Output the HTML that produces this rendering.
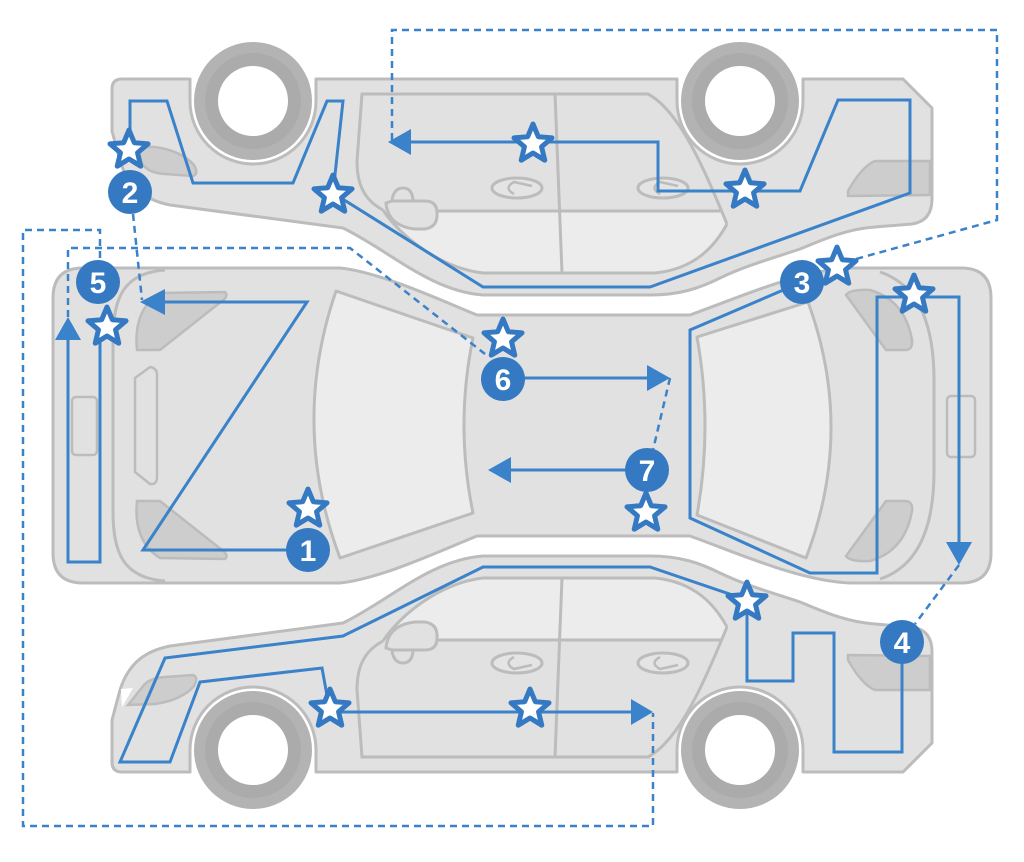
<!DOCTYPE html>
<html><head><meta charset="utf-8"><style>
html,body{margin:0;padding:0;background:#fff;}
svg{display:block;}
.num{font-family:"Liberation Sans",sans-serif;font-weight:bold;font-size:30px;fill:#fff;text-anchor:middle;}
</style></head><body>
<svg width="1024" height="862" viewBox="0 0 1024 862" xmlns="http://www.w3.org/2000/svg">
<defs>
<g id="side">
  <path d="M122,772 L190,772 L190,750 A63,63 0 0 1 316,750 L316,772 L677,772 L677,750 A63,63 0 0 1 803,750 L803,772 L903,772 L932,743 L932,652 Q932,630 912,627 L875,624 C845,622 820,610 800,602 C770,592 745,585 720,573 C700,563 680,556 650,556 L483,556 C430,560 390,600 343,623 L170,646 C140,652 127,668 120,690 L112,720 L112,762 Q112,772 122,772 Z" fill="#e1e1e1" stroke="#bcbcbc" stroke-width="3" stroke-linejoin="round"/>
  <path d="M383,641 C400,615 440,583 483,578 L655,578 C695,582 715,605 727,627 L721,641 Z" fill="#ececec"/>
  <path d="M383,641 C400,615 440,583 483,578 L655,578 C695,582 715,605 727,627" fill="none" stroke="#bcbcbc" stroke-width="3"/>
  <path d="M383,641 C362,652 357,670 357,690 L362,757 L648,757 C680,740 705,680 727,627" fill="none" stroke="#bcbcbc" stroke-width="3"/>
  <path d="M562,578 L555,757" stroke="#bcbcbc" stroke-width="3"/>
  <path d="M437,640 L722,640" stroke="#bcbcbc" stroke-width="3"/>
  <path d="M386,648 Q388,625 415,622 L425,622 Q438,624 437,638 Q437,650 425,650 L392,650 Z" fill="#e1e1e1" stroke="#bcbcbc" stroke-width="3"/>
  <path d="M392,651 Q394,663 403,663 Q412,663 413,651" fill="none" stroke="#bcbcbc" stroke-width="3"/>
  <ellipse cx="517" cy="663" rx="25" ry="10" fill="#e4e4e4" stroke="#bcbcbc" stroke-width="3"/>
  <path d="M514,657 Q503,663 514,669 L532,665" fill="none" stroke="#bcbcbc" stroke-width="2.5"/>
  <ellipse cx="663" cy="663" rx="25" ry="10" fill="#e4e4e4" stroke="#bcbcbc" stroke-width="3"/>
  <path d="M660,657 Q649,663 660,669 L678,665" fill="none" stroke="#bcbcbc" stroke-width="2.5"/>
  <path d="M128,705 L144,685 Q150,678 165,677 L193,675 Q199,677 194,686 Q182,700 155,704 Z" fill="#cdcdcd" stroke="#bcbcbc" stroke-width="2.5"/>
  <path d="M121,689 L133,688 L122,707 Z" fill="#fff"/>
  <path d="M848,655 L930,656 L930,690 L875,690 Q862,685 848,660 Z" fill="#cdcdcd" stroke="#bcbcbc" stroke-width="2.5"/>
  <circle cx="253" cy="750" r="59" fill="#b3b3b3"/>
  <circle cx="253" cy="750" r="48" fill="#ababab"/>
  <circle cx="253" cy="750" r="35" fill="#fff"/>
  <circle cx="740" cy="750" r="59" fill="#b3b3b3"/>
  <circle cx="740" cy="750" r="48" fill="#ababab"/>
  <circle cx="740" cy="750" r="35" fill="#fff"/>
</g>
<path id="st" d="M0,-20 L5.29,-7.28 L19.02,-6.18 L8.56,2.78 L11.76,16.18 L0,9 L-11.76,16.18 L-8.56,2.78 L-19.02,-6.18 L-5.29,-7.28 Z" fill="#fff" stroke="#3479c1" stroke-width="5" stroke-linejoin="round"/>
</defs>

<!-- top car (mirrored) -->
<g transform="translate(0,851) scale(1,-1)"><use href="#side"/></g>
<!-- bottom car -->
<use href="#side"/>

<!-- middle car (top view) -->
<path d="M83,268 L340,268 C380,272 440,300 477,315 L690,315 C740,297 800,270 850,268 L961,268 Q991,268 991,298 L991,553 Q991,583 961,583 L850,583 C800,581 740,554 690,536 L477,536 C440,551 380,579 340,583 L83,583 Q53,583 53,553 L53,298 Q53,268 83,268 Z" fill="#e1e1e1" stroke="#bcbcbc" stroke-width="3" stroke-linejoin="round"/>
<path d="M165,270 C122,273 113,300 113,340 L113,511 C113,551 122,578 165,581" fill="none" stroke="#bcbcbc" stroke-width="3"/>
<path d="M137,350 Q133,310 160,293 L225,292 Q229,296 222,301 L160,350 Z" fill="#cdcdcd" stroke="#bcbcbc" stroke-width="2.5"/>
<path d="M137,501 Q133,541 160,558 L225,559 Q229,555 222,550 L160,501 Z" fill="#cdcdcd" stroke="#bcbcbc" stroke-width="2.5"/>
<path d="M135,378 L150,367 Q157,368 157,375 L157,477 Q157,485 150,484 L135,472 Z" fill="#e1e1e1" stroke="#bcbcbc" stroke-width="2.5"/>
<rect x="72" y="397" width="25" height="58" rx="4" fill="#e1e1e1" stroke="#bcbcbc" stroke-width="2.5"/>
<path d="M336,291 L473,338 Q455,425 473,513 L340,558 Q290,425 336,291 Z" fill="#ececec" stroke="#bcbcbc" stroke-width="3" stroke-linejoin="round"/>
<path d="M697,337 L808,302 Q855,430 806,558 L697,515 Q713,426 697,337 Z" fill="#ececec" stroke="#bcbcbc" stroke-width="3" stroke-linejoin="round"/>
<path d="M846,295 Q850,289 870,290 Q905,300 912,340 Q913,350 905,350 L886,350 Z" fill="#cdcdcd" stroke="#bcbcbc" stroke-width="2.5"/>
<path d="M846,556 Q850,562 870,561 Q905,551 912,511 Q913,501 905,501 L886,501 Z" fill="#cdcdcd" stroke="#bcbcbc" stroke-width="2.5"/>
<path d="M880,272 Q934,290 934,380 L934,471 Q934,561 880,579" fill="none" stroke="#bcbcbc" stroke-width="3"/>
<rect x="947" y="396" width="28" height="61" rx="4" fill="#e1e1e1" stroke="#bcbcbc" stroke-width="2.5"/>

<!-- dashed connectors -->
<g fill="none" stroke="#3a82c9" stroke-width="2.5" stroke-dasharray="7,5">
  <path d="M133,214 L142,300"/>
  <path d="M392,140 L392,30 L997,30 L997,220 L856,259"/>
  <path d="M68,317 L68,248 L350,248 L485,354"/>
  <path d="M100,258 L100,230 L23,230 L23,826 L653,826 L653,713"/>
  <path d="M670,378 L653,450"/>
  <path d="M959,565 L915,624"/>
</g>

<!-- solid blue paths -->
<g fill="none" stroke="#3a82c9" stroke-width="3" stroke-linejoin="miter">
  <path d="M130,148 L130,101 L167,101 L193,183 L293,183 L327,101 L343,101 L333,193 L483,287 L650,287 L910,193 L910,100 L838,100 L800,191 L658,191 L658,142 L410,142"/>
  <path d="M308,550 L143,550 L307,302 L163,302"/>
  <path d="M100,330 L100,562 L68,562 L68,338"/>
  <path d="M503,378 L648,378"/>
  <path d="M647,470 L510,470"/>
  <path d="M802,282 L690,330 L690,518 L810,573 L877,573 L877,297 L959,297 L959,543"/>
  <path d="M902,642 L902,752 L834,752 L834,633 L793,633 L793,681 L747,681 L747,600 L650,567 L483,567 L343,636 L165,658 L120,762 L170,762 L200,682 L322,668 L330,712 L632,712"/>
</g>
<g fill="#3a82c9">
  <polygon points="388,142 411,129 411,155"/>
  <polygon points="140,302 165,289 165,315"/>
  <polygon points="68,317 55,340 81,340"/>
  <polygon points="670,378 647,365 647,391"/>
  <polygon points="488,470 511,457 511,483"/>
  <polygon points="959,565 946,542 972,542"/>
  <polygon points="653,712 631,699 631,725"/>
</g>

<!-- numbered circles -->
<g fill="#3479c1">
  <circle cx="130" cy="192" r="22"/>
  <circle cx="802" cy="282" r="22"/>
  <circle cx="902" cy="642" r="22"/>
  <circle cx="98" cy="282" r="22"/>
  <circle cx="503" cy="379" r="22"/>
  <circle cx="647" cy="470" r="22"/>
  <circle cx="308" cy="550" r="22"/>
</g>
<text class="num" x="130" y="203">2</text>
<text class="num" x="802" y="293">3</text>
<text class="num" x="902" y="653">4</text>
<text class="num" x="98" y="293">5</text>
<text class="num" x="503" y="390">6</text>
<text class="num" x="647" y="481">7</text>
<text class="num" x="308" y="561">1</text>

<!-- stars -->
<use href="#st" transform="translate(129,150)"/>
<use href="#st" transform="translate(333,195)"/>
<use href="#st" transform="translate(533,144)"/>
<use href="#st" transform="translate(745,190)"/>
<use href="#st" transform="translate(837,267)"/>
<use href="#st" transform="translate(914,295)"/>
<use href="#st" transform="translate(107,327)"/>
<use href="#st" transform="translate(503,339)"/>
<use href="#st" transform="translate(646,513)"/>
<use href="#st" transform="translate(308,509)"/>
<use href="#st" transform="translate(747,602)"/>
<use href="#st" transform="translate(330,709)"/>
<use href="#st" transform="translate(530,709)"/>
</svg>
</body></html>
